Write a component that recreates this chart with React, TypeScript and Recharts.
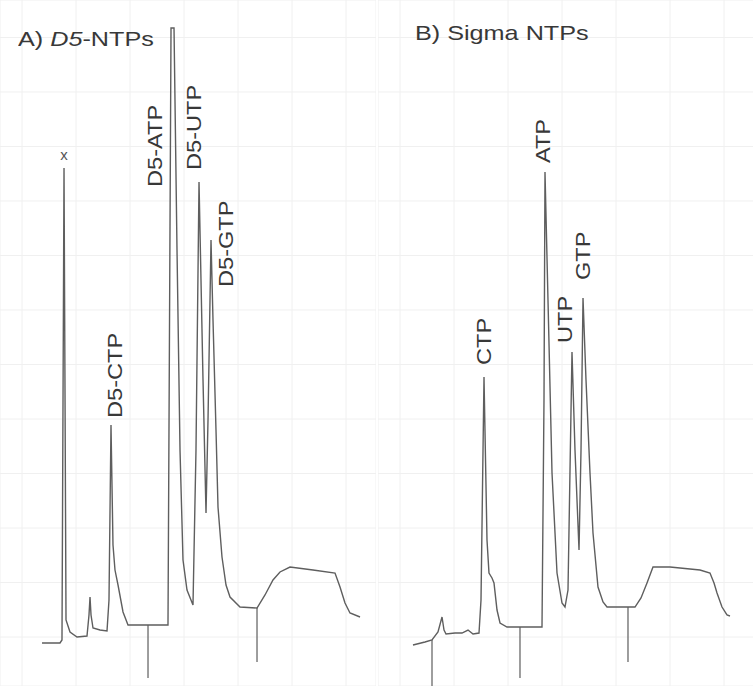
import { ComposedChart, Line, Scatter, XAxis, YAxis, CartesianGrid, ReferenceLine } from 'recharts';

// retention time (min) and detector signal (mAU)
const timeA = [
  0.741, 1.407, 1.481, 1.556, 1.63, 1.778, 2.037, 2.407, 2.481, 2.519, 2.556, 2.63, 2.889, 3.148,
  3.222, 3.296, 3.37, 3.444, 3.556, 3.741, 3.926, 5.407, 5.519, 5.63, 5.741, 5.852, 5.963, 6.111,
  6.333, 6.444, 6.556, 6.704, 6.815, 6.889, 7.0, 7.074, 7.185, 7.259, 7.407, 7.556, 7.704, 8.074,
  8.704, 9.0, 9.296, 9.556, 9.926, 10.778, 11.593, 11.778, 11.963, 12.148, 12.519,
];
const signalA = [
  -1.1, -1.1, -0.55, 86.06, 3.12, 0.92, 0, 0.18, 4.04, 7.34, 4.04, 1.65, 1.28, 1.1,
  6.79, 38.9, 16.88, 12.29, 9.54, 4.59, 2.2, 2.2, 111.74, 111.74, 71.01, 34.31, 14.13, 8.62,
  5.87, 34.31, 83.49, 47.16, 22.75, 39.82, 72.84, 58.17, 37.98, 23.85, 14.68, 9.54, 7.34, 5.5,
  5.32, 7.71, 10.46, 11.93, 12.84, 12.29, 11.74, 9.17, 6.24, 4.4, 3.67,
];

const timeB = [
  0.481, 0.926, 1.185, 1.407, 1.556, 1.63, 1.704, 2.037, 2.296, 2.519, 2.704, 2.926, 3.0, 3.111,
  3.222, 3.296, 3.407, 3.481, 3.593, 3.704, 3.963, 5.259, 5.333, 5.37, 5.481, 5.63, 5.815, 6.0,
  6.111, 6.222, 6.37, 6.481, 6.63, 6.704, 6.778, 6.889, 7.037, 7.148, 7.333, 7.519, 7.667, 8.704,
  8.926, 9.148, 9.37, 10.0, 11.111, 11.481, 11.63, 11.741, 11.926, 12.111, 12.222,
];
const signalB = [
  -1.47, -0.92, -0.55, 0.92, 3.67, 1.28, 0.55, 0.73, 0.73, 1.28, 0.55, 0.73, 6.79, 47.71,
  17.8, 11.74, 10.83, 9.91, 4.95, 2.57, 1.83, 1.83, 43.49, 85.32, 61.83, 30.09, 11.74, 6.24,
  5.5, 8.62, 52.29, 34.31, 15.96, 34.31, 62.2, 47.16, 30.09, 19.08, 9.17, 6.42, 5.5, 5.5,
  7.16, 9.91, 12.84, 12.84, 12.29, 11.74, 9.91, 8.07, 5.5, 4.04, 3.85,
];

// event marks below the baseline
const markTimeA = [4.667, 8.704];
const markTopA = [2.2, 5.32];
const markBottomA = [-7.52, -4.59];
const markTimeB = [1.185, 4.444, 8.444];
const markTopB = [-0.55, 1.83, 5.5];
const markBottomB = [-8.99, -7.52, -4.59];

// peak names and where their labels begin
const peakNameA = ['x', 'D5-CTP', 'D5-ATP', 'D5-UTP', 'D5-GTP'];
const peakTimeA = [1.556, 3.444, 4.926, 6.37, 7.556];
const peakLabelA = [87.5, 40.18, 82.57, 85.69, 64.22];
const peakNameB = ['CTP', 'ATP', 'UTP', 'GTP'];
const peakTimeB = [3.111, 5.296, 6.111, 6.778];
const peakLabelB = [49.91, 86.97, 53.94, 65.5];

const timeTicks = [0, 2, 4, 6, 8, 10, 12];
const signalTicks = [0, 10, 20, 30, 40, 50, 60, 70, 80, 90, 100, 110];

const FONT = '"Liberation Sans", Arial, sans-serif';

function PeakLabel(props: any) {
  const { cx, cy, payload } = props;
  if (payload.name === 'x') {
    return (
      <text x={cx} y={cy} textAnchor="middle" fontSize={15} fill="#555" fontFamily={FONT}>
        x
      </text>
    );
  }
  return (
    <g transform={`translate(${cx},${cy}) rotate(-90) scale(1.18,1)`}>
      <text x={0} y={0} textAnchor="start" dominantBaseline="central" fontSize={20} fill="#383838" fontFamily={FONT}>
        {payload.name}
      </text>
    </g>
  );
}

interface PanelProps {
  left: number;
  time: number[];
  signal: number[];
  markTime: number[];
  markTop: number[];
  markBottom: number[];
  names: string[];
  nameTime: number[];
  nameSignal: number[];
}

function Panel({ left, time, signal, markTime, markTop, markBottom, names, nameTime, nameSignal }: PanelProps) {
  const data = time.map((t, i) => ({ t, s: signal[i] }));
  const labels = names.map((name, i) => ({ t: nameTime[i], s: nameSignal[i], name }));
  return (
    <div style={{ position: 'absolute', left, top: 0 }}>
      <ComposedChart width={376} height={686} data={data} margin={{ top: 0, right: 0, bottom: 0, left: 0 }}>
        <CartesianGrid stroke="#f0f0f0" strokeWidth={1} />
        <XAxis dataKey="t" type="number" domain={[-0.815, 13.111]} ticks={timeTicks} hide allowDataOverflow />
        <YAxis type="number" domain={[-8.99, 116.88]} ticks={signalTicks} hide allowDataOverflow />
        {markTime.map((t, i) => (
          <ReferenceLine
            key={'m' + i}
            segment={[
              { x: t, y: markTop[i] },
              { x: t, y: markBottom[i] },
            ]}
            stroke="#6a6a6a"
            strokeWidth={1.3}
          />
        ))}
        <Line
          dataKey="s"
          type="linear"
          stroke="#5e5e5e"
          strokeWidth={1.4}
          dot={false}
          activeDot={false}
          isAnimationActive={false}
        />
        <Scatter data={labels} dataKey="s" shape={PeakLabel} isAnimationActive={false} />
      </ComposedChart>
    </div>
  );
}

export default function App() {
  return (
    <div
      style={{
        position: 'absolute',
        left: 0,
        top: 0,
        width: 753,
        height: 686,
        overflow: 'hidden',
        background: '#fff',
        fontFamily: FONT,
      }}
    >
      <Panel
        left={0}
        time={timeA}
        signal={signalA}
        markTime={markTimeA}
        markTop={markTopA}
        markBottom={markBottomA}
        names={peakNameA}
        nameTime={peakTimeA}
        nameSignal={peakLabelA}
      />
      <Panel
        left={378}
        time={timeB}
        signal={signalB}
        markTime={markTimeB}
        markTop={markTopB}
        markBottom={markBottomB}
        names={peakNameB}
        nameTime={peakTimeB}
        nameSignal={peakLabelB}
      />
      <div
        style={{
          position: 'absolute',
          left: 18,
          top: 27,
          fontSize: 21,
          color: '#383838',
          transform: 'scaleX(1.2)',
          transformOrigin: 'left top',
          whiteSpace: 'nowrap',
        }}
      >
        A) <i>D5</i>-NTPs
      </div>
      <div
        style={{
          position: 'absolute',
          left: 415,
          top: 21,
          fontSize: 21,
          color: '#383838',
          transform: 'scaleX(1.2)',
          transformOrigin: 'left top',
          whiteSpace: 'nowrap',
        }}
      >
        B) Sigma NTPs
      </div>
    </div>
  );
}
